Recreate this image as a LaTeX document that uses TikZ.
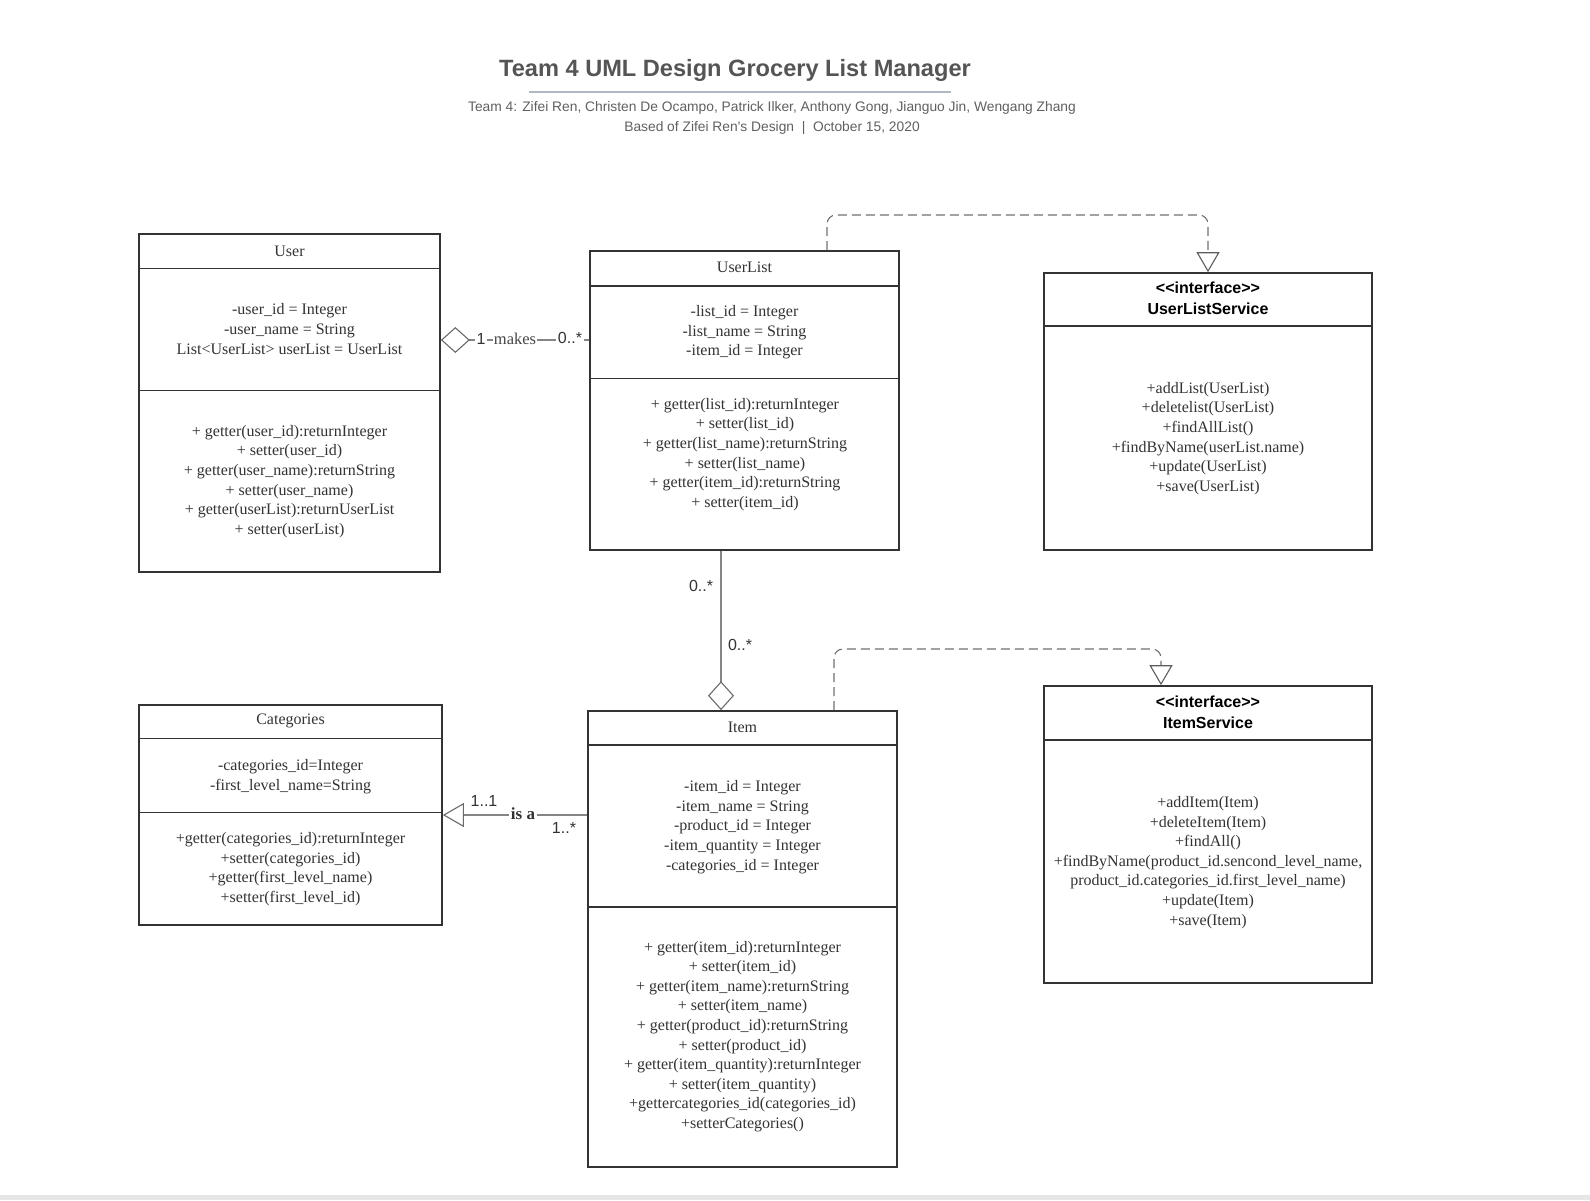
\documentclass[tikz,border=0pt]{standalone}
\usepackage{fontspec}
\setmainfont{Liberation Serif}
\newfontfamily\lsans{Liberation Sans}
\usetikzlibrary{calc,arrows.meta}
\definecolor{boxline}{HTML}{333333}
\definecolor{txt}{HTML}{333333}
\definecolor{conn}{HTML}{858585}
\definecolor{titlec}{HTML}{555555}
\definecolor{subc}{HTML}{606060}
\definecolor{makesc}{HTML}{474747}
\definecolor{rulec}{HTML}{B4B8C4}
\definecolor{stripc}{HTML}{E6E6E6}
\tikzset{
  classbox/.style={draw=boxline, line width=1.7pt, fill=white, inner sep=0pt},
  divline/.style={draw=boxline, line width=1.7pt},
  boxtext/.style={align=center, text=txt, inner sep=0pt, font=\fontsize{16}{19.6}\selectfont},
  headtext/.style={align=center, text=txt, inner sep=0pt, font=\fontsize{16}{19.6}\selectfont},
  ifacehead/.style={align=center, text=black, inner sep=0pt, font=\lsans\bfseries\fontsize{16}{20.5}\selectfont},
  connline/.style={draw=conn, line width=1.3pt},
  dashconn/.style={draw=conn!85!black, line width=1.1pt, dash pattern=on 9pt off 5pt, rounded corners=9pt},
  multlabel/.style={text=txt, inner sep=1.5pt, font=\lsans\fontsize{16}{19}\selectfont},
  onlabel/.style={fill=white, inner sep=1.5pt},
  aggtip/.style={-{Diamond[open, length=29pt, width=26pt, line width=1.1pt, color=conn!80!black]}},
  gentip/.style={-{Triangle[open, length=21pt, width=24pt, line width=1.1pt, color=conn!80!black]}},
  realtip/.style={-{Triangle[open, length=20pt, width=23pt, line width=1.1pt, color=conn!70!black, fill=white]}}
}
\begin{document}
\begin{tikzpicture}[x=1pt,y=-1pt]
\useasboundingbox (0,0) rectangle (1590,1200);
\fill[white] (0,0) rectangle (1590,1200);
\fill[stripc] (0,1195) rectangle (1590,1200);

% title
\node[text=titlec, inner sep=0pt, font=\lsans\bfseries\fontsize{23.6}{28}\selectfont] (title) at (735,70.5) {Team 4 UML Design Grocery List Manager};
\coordinate (rl) at (529,92);
\coordinate (rr) at (951,92);
\draw[rulec, line width=1.6pt] (rl) -- (rr);
\node[text=subc, inner sep=0pt, font=\lsans\fontsize{13.8}{16}\selectfont] (sub1) at (772,108) {Team 4: Zifei Ren, Christen De Ocampo, Patrick Ilker, Anthony Gong, Jianguo Jin, Wengang Zhang};
\node[text=subc, inner sep=0pt, font=\lsans\fontsize{13.8}{16}\selectfont] (sub2) at (772,127.5) {Based of Zifei Ren's Design~~|~~October 15, 2020};

% ---- boxes ----
\node[classbox, minimum width=301pt, minimum height=338pt] (user) at (289.5,403) {};
\node[classbox, minimum width=309pt, minimum height=299pt] (ulist) at (744.5,400.5) {};
\node[classbox, minimum width=328pt, minimum height=277pt] (uls) at (1208,411.5) {};
\node[classbox, minimum width=303pt, minimum height=220pt] (cat) at (290.5,815) {};
\node[classbox, minimum width=309pt, minimum height=456pt] (item) at (742.5,939) {};
\node[classbox, minimum width=328pt, minimum height=297pt] (its) at (1208,834.5) {};

% dividers
\draw[divline] (user.west |- 0,268.5) -- (user.east |- 0,268.5);
\draw[divline] (user.west |- 0,390.5) -- (user.east |- 0,390.5);
\draw[divline] (ulist.west |- 0,286) -- (ulist.east |- 0,286);
\draw[divline] (ulist.west |- 0,378.5) -- (ulist.east |- 0,378.5);
\draw[divline] (uls.west |- 0,326) -- (uls.east |- 0,326);
\draw[divline] (cat.west |- 0,738.5) -- (cat.east |- 0,738.5);
\draw[divline] (cat.west |- 0,812.5) -- (cat.east |- 0,812.5);
\draw[divline] (item.west |- 0,745) -- (item.east |- 0,745);
\draw[divline] (item.west |- 0,907) -- (item.east |- 0,907);
\draw[divline] (its.west |- 0,740) -- (its.east |- 0,740);

% ---- texts ----
\node[headtext] (userh) at (289.5,251) {User};
\node[boxtext] (usera) at (289.5,329) {-user\_id = Integer\\-user\_name = String\\List<UserList> userList = UserList};
\node[boxtext] (userm) at (289.5,481.5) {+ getter(user\_id):returnInteger\\+ setter(user\_id)\\+ getter(user\_name):returnString\\+ setter(user\_name)\\+ getter(userList):returnUserList\\+ setter(userList)};

\node[headtext] (ulisth) at (744.5,267.5) {UserList};
\node[boxtext] (ulista) at (744.5,332.5) {-list\_id = Integer\\-list\_name = String\\-item\_id = Integer};
\node[boxtext] (ulistm) at (745,454.5) {+ getter(list\_id):returnInteger\\+ setter(list\_id)\\+ getter(list\_name):returnString\\+ setter(list\_name)\\+ getter(item\_id):returnString\\+ setter(item\_id)};

\node[ifacehead] (ulsh) at (1208,298.5) {<<interface>>\\UserListService};
\node[boxtext] (ulsm) at (1208,438.5) {+addList(UserList)\\+deletelist(UserList)\\+findAllList()\\+findByName(userList.name)\\+update(UserList)\\+save(UserList)};

\node[headtext] (cath) at (290.5,720.5) {Categories};
\node[boxtext] (cata) at (290.5,776.5) {-categories\_id=Integer\\-first\_level\_name=String};
\node[boxtext] (catm) at (290.5,869) {+getter(categories\_id):returnInteger\\+setter(categories\_id)\\+getter(first\_level\_name)\\+setter(first\_level\_id)};

\node[headtext] (itemh) at (742.5,727.5) {Item};
\node[boxtext] (itema) at (742.5,827) {-item\_id = Integer\\-item\_name = String\\-product\_id = Integer\\-item\_quantity = Integer\\-categories\_id = Integer};
\node[boxtext] (itemm) at (742.5,1036.5) {+ getter(item\_id):returnInteger\\+ setter(item\_id)\\+ getter(item\_name):returnString\\+ setter(item\_name)\\+ getter(product\_id):returnString\\+ setter(product\_id)\\+ getter(item\_quantity):returnInteger\\+ setter(item\_quantity)\\+gettercategories\_id(categories\_id)\\+setterCategories()};

\node[ifacehead] (itsh) at (1208,712.5) {<<interface>>\\ItemService};
\node[boxtext] (itsm) at (1208,862.5) {+addItem(Item)\\+deleteItem(Item)\\+findAll()\\+findByName(product\_id.sencond\_level\_name,\\product\_id.categories\_id.first\_level\_name)\\+update(Item)\\+save(Item)};

% ---- connectors ----
% User <>-- UserList
\coordinate (m1) at (0,340);
\draw[connline, aggtip] (ulist.west |- m1) -- (user.east |- m1);
\node[multlabel, onlabel] (l1) at (481,339) {1};
\node[onlabel, text=makesc, inner sep=1pt, font=\fontsize{16.5}{18}\selectfont] (lmakes) at (515,338.5) {makes};
\node[multlabel, onlabel] (l0) at (570,338) {0..*};

% UserList -- <>Item
\coordinate (m2) at (721,0);
\draw[connline, aggtip] (ulist.south -| m2) -- (item.north -| m2);
\node[multlabel] (l2) at (701,585.5) {0..*};
\node[multlabel] (l3) at (740,644.5) {0..*};

% UserList ..|> UserListService
\coordinate (d1) at (827,215);
\draw[dashconn, realtip] (ulist.north -| d1) -- (d1) -| (uls.north);

% Item ..|> ItemService
\coordinate (d2) at (834,649);
\coordinate (d3) at (1161,0);
\draw[dashconn, realtip] (item.north -| d2) -- (d2) -| (its.north -| d3);

% Item --|> Categories
\coordinate (m3) at (0,815);
\draw[connline, gentip] (item.west |- m3) -- (cat.east |- m3);
\node[multlabel] (l4) at (484,800.5) {1..1};
\node[onlabel, text=txt, font=\bfseries\fontsize{17}{20}\selectfont] (lisa) at (523,814) {is a};
\node[multlabel] (l5) at (564,827.5) {1..*};
\end{tikzpicture}
\end{document}
